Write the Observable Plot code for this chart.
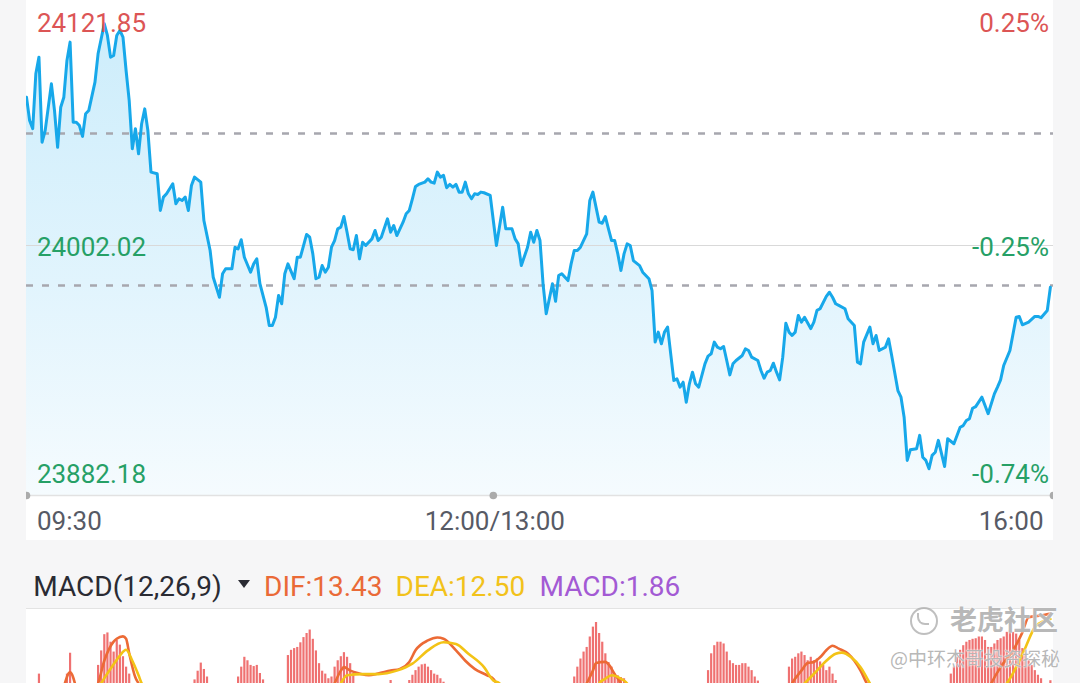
<!DOCTYPE html>
<html><head><meta charset="utf-8">
<script src="https://cdn.jsdelivr.net/npm/d3@7"></script>
<script src="https://cdn.jsdelivr.net/npm/@observablehq/plot@0.6"></script>
<style>
html,body{margin:0;padding:0;background:#f6f6f7;width:1080px;height:683px;overflow:hidden;font-family:Roboto,sans-serif;}
#main{position:absolute;left:26px;top:0;width:1027px;height:540px;background:#fff;overflow:hidden;}
#macd{position:absolute;left:26px;top:609px;width:1027px;height:74px;background:#fff;overflow:hidden;}
#sep{position:absolute;left:26px;top:608px;width:1027px;height:1px;background:#e3e3e3;}
.hdr{position:absolute;top:573px;font-size:28px;line-height:28px;white-space:nowrap;font-family:Roboto,sans-serif;}
#tri{position:absolute;left:237.5px;top:580px;width:0;height:0;border-left:6px solid transparent;border-right:6px solid transparent;border-top:8px solid #2a2b33;}
.wm{position:absolute;white-space:nowrap;font-family:"Noto Sans CJK SC",sans-serif;line-height:1;color:rgba(165,165,165,0.8);text-shadow:0 0 2px #fff,0 0 1px #fff;}
#logo{position:absolute;left:910px;top:607px;width:24px;height:24px;border:2px solid rgba(170,170,170,0.75);border-radius:50%;}
#logo2{position:absolute;left:917px;top:613px;width:10px;height:10px;border-left:2px solid rgba(170,170,170,0.75);border-bottom:2px solid rgba(170,170,170,0.75);border-radius:0 0 0 8px;}
svg{overflow:hidden;display:block;}
</style></head><body>
<div id="main"></div><div id="sep"></div><div id="macd"></div>
<div class="hdr" id="hMacd" style="left:33.3px;color:#2a2b33"></div>
<div id="tri"></div>
<div class="hdr" id="hDif" style="left:264px;color:#ea6a37"></div>
<div class="hdr" id="hDea" style="left:395.5px;color:#f2c21b"></div>
<div class="hdr" id="hHist" style="left:539.5px;color:#a35ad4"></div>
<div id="logo"></div><div id="logo2"></div>
<div class="wm" style="left:950px;top:605px;font-size:27px;font-weight:bold;">老虎社区</div>
<div class="wm" style="left:890px;top:648px;font-size:19px;">@中环杰哥投资探秘</div>
<script>
// ---------- data ----------
const priceT = [0,1,2,3,4,5,6,8,9,10,11,12,13,14,15,16,17,18,19,20,22,23,25,26,27,28,29,30,31,32,33,34,35,36,37,38,39,40,42,43,44,45,47,48,49,50,51,52,53,54,56,57,59,60,62,63,64,66,67,68,69,70,72,73,74,75,77,78,79,80,81,82,83,84,86,87,88,90,91,92,93,94,95,96,97,98,99,100,101,102,103,104,105,106,107,108,109,111,112,113,114,116,117,118,119,121,122,123,124,125,126,128,129,130,131,132,133,134,135,136,137,138,139,140,141,142,143,144,145,146,147,149,150,151,153,154,156,157,158,159,161,162,163,164,165,166,167,169,170,171,172,174,175,176,177,178,180,181,182,183,184,185,186,187,188,189,190,191,192,193,194,195,197,198,200,201,202,203,204,205,206,207,208,209,210,211,212,213,214,215,216,218,219,220,221,222,223,224,225,226,227,228,230,231,232,233,235,236,237,238,239,240,241,242,243,244,245,246,247,248,249,250,252,253,254,255,257,258,259,260,261,263,264,266,267,268,269,271,272,273,274,276,277,278,280,281,282,283,284,286,287,288,289,290,291,292,293,295,296,298,300,301,302,303,304,305,307,308,309,311,312,313,314,316,318,319,320,322,324,325,326,328,329];
const priceV = [24073.1,24061.9,24058.0,24084.3,24092.3,24051.5,24057.1,24079.5,24066.7,24049.1,24068.3,24073.1,24090.7,24099.5,24061.1,24061.1,24059.5,24054.3,24065.2,24066.7,24080.3,24093.9,24108.3,24102.7,24092.3,24093.1,24102.7,24105.1,24101.9,24085.9,24071.5,24048.4,24058.0,24046.0,24060.4,24067.5,24057.1,24037.2,24036.4,24018.8,24025.2,24026.8,24031.6,24022.0,24024.4,24023.6,24025.2,24018.8,24030.8,24034.8,24032.4,24014.0,23999.6,23986.8,23977.2,23988.5,23990.9,23990.9,24001.2,24000.4,24004.8,23996.4,23989.2,23993.2,23995.6,23983.7,23972.4,23963.7,23963.7,23967.6,23978.1,23974.1,23988.5,23993.2,23986.1,23996.4,23996.4,24007.3,24006.0,23998.0,23986.1,23986.8,23992.4,23989.2,23991.6,24001.2,24004.4,24010.0,24010.8,24015.9,24008.4,24000.4,24000.0,24006.8,23995.6,24003.6,24002.0,24005.2,24009.2,24004.4,24006.0,24014.8,24008.4,24011.6,24006.8,24013.2,24017.2,24018.8,24024.4,24030.3,24031.3,24032.4,24034.0,24032.4,24031.9,24037.2,24034.8,24035.6,24029.7,24031.3,24030.0,24031.3,24027.6,24027.6,24032.4,24026.8,24024.4,24026.8,24026.5,24027.6,24027.3,24026.0,24014.0,24002.0,24020.4,24010.0,24010.0,24005.2,24002.8,23992.4,24001.2,24008.4,24003.6,24009.2,24004.4,23983.3,23969.3,23983.7,23975.3,23987.6,23988.5,23985.2,23993.2,23999.6,23999.6,24001.2,24007.6,24023.6,24027.6,24020.4,24013.2,24012.7,24015.9,24010.0,24004.4,24004.4,23998.0,23990.0,23998.0,24002.8,24002.0,23994.8,23992.4,23989.2,23986.1,23980.4,23955.7,23960.5,23954.9,23960.5,23962.9,23950.1,23937.3,23938.1,23934.1,23936.5,23926.9,23935.7,23941.3,23935.7,23934.1,23945.3,23949.0,23950.1,23955.7,23953.3,23952.5,23953.6,23946.9,23940.0,23945.3,23946.9,23949.3,23952.5,23951.7,23948.5,23946.9,23942.1,23938.4,23941.3,23942.1,23945.6,23941.3,23937.6,23948.5,23964.8,23960.5,23958.9,23960.5,23968.5,23965.3,23967.6,23962.2,23965.3,23970.9,23971.7,23977.6,23979.6,23977.2,23974.1,23973.3,23971.7,23966.9,23963.7,23946.1,23945.3,23955.7,23962.9,23954.9,23958.9,23951.7,23953.3,23957.3,23949.3,23932.5,23929.3,23919.7,23899.0,23904.1,23904.6,23911.0,23900.5,23899.0,23895.0,23901.4,23902.9,23908.6,23896.1,23909.4,23907.0,23914.9,23915.7,23918.1,23919.0,23924.0,23924.8,23929.3,23925.3,23921.4,23930.9,23934.1,23937.6,23944.5,23951.7,23967.6,23968.0,23964.0,23965.3,23968.0,23968.0,23967.4,23970.9,23982.0];

const priceTicks = [24121.85, 24002.02, 23882.18];
const priceTickLabels = ["24121.85", "24002.02", "23882.18"];
const pctTickLabels = ["0.25%", "-0.25%", "-0.74%"];
const refLevels = [24055.7, 23982.9];
const timeTicks = [0, 150, 330];
const timeLabels = ["09:30", "12:00/13:00", "16:00"];

const macdParams = [12, 26, 9];
const histT = [4,13,14,23,24,25,26,27,28,29,30,31,32,33,54,55,56,57,58,68,69,70,71,72,73,74,75,76,84,85,86,87,88,89,90,91,92,93,94,95,96,97,98,99,100,101,102,103,104,105,117,123,124,125,126,127,128,129,130,131,132,133,134,176,177,178,179,180,181,182,183,184,185,186,187,188,189,190,191,192,219,220,221,222,223,224,225,226,227,228,229,230,231,232,233,234,235,245,246,247,248,249,250,251,252,253,254,255,256,257,258,259,260,297,298,299,300,301,302,303,304,305,306,307,308,309,310,311,312,313,314,315,316,317,318,319,320,321,322,323,324,325,326,329];
const histV = [3.0,3.0,6.6,4.5,7.0,9.8,10.1,8.5,6.8,8.8,8.0,6.0,4.2,3.0,2.0,3.5,4.9,3.8,2.5,2.5,4.2,5.9,5.3,4.5,4.3,4.5,3.1,2.0,6.2,7.1,7.4,7.6,8.4,9.3,10.0,10.6,9.0,7.0,4.8,3.5,3.0,2.2,2.5,4.2,5.3,6.0,6.7,5.9,4.8,3.1,1.9,1.9,2.8,3.6,4.2,4.6,4.7,4.2,3.6,3.0,2.8,2.2,1.6,2.5,4.2,5.6,6.8,7.6,9.4,11.1,11.9,10.0,8.5,6.5,5.0,4.2,3.0,2.7,2.4,2.2,3.6,6.5,7.9,8.5,8.5,8.2,6.8,5.3,4.8,4.5,4.5,4.8,4.8,4.2,3.6,2.5,1.8,4.2,5.6,5.9,6.5,6.8,6.2,5.3,5.9,5.3,5.6,5.1,4.5,3.6,4.2,3.0,1.9,3.0,4.2,5.9,7.1,7.9,8.5,8.8,9.0,9.1,9.4,9.4,8.8,7.6,7.6,8.2,8.8,9.1,9.4,10.2,10.5,10.2,9.9,8.8,7.4,6.2,5.3,4.5,3.6,2.8,2.2,1.86];

const difT = [12,14,16, 22,23,25,28,29,31,32,33,35,36,37, 98,99,101,102,104,107,110,113,117,120,123,125,129,132,134,138,141,144,148,150,151,152, 179,180,182,183,186,187,189,191,192, 245,246,249,251,253,255,257,259,261,264,266,268,270,271, 309,310,313,317,320,322,326,329];
const difV = [0.8,3.3,0.5, 0.2,1.4,5.3,8.6,9.1,9.5,9.1,6.6,2.4,1.4,0.3, 0.3,1.4,3.6,4.2,3.6,3.1,2.8,3.1,3.6,3.9,5.1,7.1,8.8,9.3,9.1,7.1,5.3,3.9,2.8,2.2,1.4,0.4, 0.3,1.4,3.6,4.9,5.1,4.7,3.0,1.4,0.4, 0.3,1.4,3.6,4.9,5.1,5.9,7.1,7.9,7.4,6.5,5.3,3.6,1.4,0.4, 0.3,1.4,4.2,7.1,10.2,12.8,13.1,13.43];
const difSeg = [0,0,0, 1,1,1,1,1,1,1,1,1,1,1, 2,2,2,2,2,2,2,2,2,2,2,2,2,2,2,2,2,2,2,2,2,2, 3,3,3,3,3,3,3,3,3, 4,4,4,4,4,4,4,4,4,4,4,4,4,4, 5,5,5,5,5,5,5,5];

const deaT = [23,24,28,30,32,34,36,37,38, 100,101,103,108,113,119,124,129,134,138,142,147,150,152,153, 183,184,186,188,191,193,194, 248,250,254,257,260,262,265,268,271,272, 313,315,318,321,324,327,329];
const deaV = [0.4,1.4,4.7,6.2,7.2,5.3,2.8,1.4,0.4, 0.4,1.4,2.8,3.0,3.0,3.6,4.8,7.1,8.5,8.2,6.5,4.2,1.9,1.4,0.4, 0.4,1.4,2.2,2.8,2.2,1.4,0.4, 0.4,1.4,3.6,5.3,6.5,6.7,5.9,4.2,1.4,0.4, 0.4,1.4,4.2,7.6,11.1,12.2,12.50];
const deaSeg = [1,1,1,1,1,1,1,1,1, 2,2,2,2,2,2,2,2,2,2,2,2,2,2,2, 3,3,3,3,3,3,3, 4,4,4,4,4,4,4,4,4,4, 5,5,5,5,5,5,5];

// ---------- build tables ----------
const series = priceT.map((t, i) => ({t, p: priceV[i]}));
const hist = histT.map((t, i) => ({t, v: histV[i]}));
const dif = difT.map((t, i) => ({t, v: difV[i], seg: difSeg[i]}));
const dea = deaT.map((t, i) => ({t, v: deaV[i], seg: deaSeg[i]}));
const pHigh = priceTicks[0], pMid = priceTicks[1], pLow = priceTicks[2];

const RED = "#dc5555", GREEN = "#26a066", GRAY = "#575a65";
const labelDy = [28.5, 2.3, -21.3];
const tickRows = priceTicks.map((p, i) => ({p, left: priceTickLabels[i], right: pctTickLabels[i],
  color: pctTickLabels[i].startsWith("-") ? GREEN : RED}));

const priceLabelMarks = tickRows.flatMap((d, i) => [
  Plot.text([d], {x: 0, y: "p", text: "left", fill: "color", textAnchor: "start", lineAnchor: "middle", dx: 10.4, dy: labelDy[i], fontSize: 26}),
  Plot.text([d], {x: 330, y: "p", text: "right", fill: "color", textAnchor: "end", lineAnchor: "middle", dx: -4.5, dy: labelDy[i], fontSize: 26})
]);
const timeAnchors = ["start", "middle", "end"];
const timeDx = [10.5, 1.5, -10];
const timeRows = timeTicks.map((t, i) => ({t, label: timeLabels[i]}));
const timeLabelMarks = timeRows.map((d, i) =>
  Plot.text([d], {x: "t", y: pLow, text: "label", fill: GRAY, textAnchor: timeAnchors[i], lineAnchor: "top", dx: timeDx[i], dy: 16, fontSize: 26}));

const mainSvg = Plot.plot({
  width: 1027, height: 540,
  marginLeft: 0, marginRight: 0, marginTop: 0, marginBottom: 45,
  x: {domain: [0, 330], range: [0, 1027], axis: null},
  y: {domain: [pLow, pHigh], range: [495, -5], axis: null},
  style: {background: "#fff", fontFamily: "Roboto, sans-serif", overflow: "hidden"},
  marks: [
    Plot.areaY(series, {x: "t", y1: pLow, y2: "p", fill: "url(#pgrad)"}),
    Plot.ruleY([pMid], {stroke: "#d9d9d9", strokeWidth: 1}),
    Plot.ruleY(refLevels, {stroke: "#a7a7ae", strokeWidth: 2.5, strokeDasharray: "7,9"}),
    Plot.ruleY([pLow], {stroke: "#e2e2e2", strokeWidth: 1.5}),
    Plot.line(series, {x: "t", y: "p", stroke: "#17a8ea", strokeWidth: 3, strokeLinejoin: "round"}),
    Plot.dot(timeTicks, {x: d => d, y: pLow, r: 3.8, fill: "#ababab", stroke: null}),
    ...priceLabelMarks,
    ...timeLabelMarks
  ]
});
const ns = "http://www.w3.org/2000/svg";
const defs = document.createElementNS(ns, "defs");
const lg = document.createElementNS(ns, "linearGradient");
lg.setAttribute("id", "pgrad");
lg.setAttribute("x1", "0"); lg.setAttribute("y1", "0"); lg.setAttribute("x2", "0"); lg.setAttribute("y2", "1");
[["0%", "#cdedfb"], ["55%", "#e1f4fd"], ["100%", "#f5fbfe"]].forEach(([o, c]) => {
  const s = document.createElementNS(ns, "stop");
  s.setAttribute("offset", o); s.setAttribute("stop-color", c);
  lg.appendChild(s);
});
defs.appendChild(lg);
mainSvg.insertBefore(defs, mainSvg.firstChild);
document.getElementById("main").appendChild(mainSvg);

const macdSvg = Plot.plot({
  width: 1027, height: 74, margin: 0,
  x: {domain: [0, 330], range: [0, 1027], axis: null},
  y: {domain: [0, 14.14], range: [82, 0], axis: null},
  style: {background: "#fff", overflow: "hidden"},
  marks: [
    Plot.ruleX(hist, {x: "t", y1: 0, y2: "v", stroke: "#ef7171", strokeWidth: 2.2}),
    Plot.line(dif, {x: "t", y: "v", z: "seg", stroke: "#ec6a35", strokeWidth: 2.6, curve: "monotone-x"}),
    Plot.line(dea, {x: "t", y: "v", z: "seg", stroke: "#f3c316", strokeWidth: 2.6, curve: "monotone-x"})
  ]
});
document.getElementById("macd").appendChild(macdSvg);

document.getElementById("hMacd").textContent = `MACD(${macdParams.join(",")})`;
document.getElementById("hDif").textContent = `DIF:${difV[difV.length - 1].toFixed(2)}`;
document.getElementById("hDea").textContent = `DEA:${deaV[deaV.length - 1].toFixed(2)}`;
document.getElementById("hHist").textContent = `MACD:${histV[histV.length - 1].toFixed(2)}`;
</script>
</body></html>
